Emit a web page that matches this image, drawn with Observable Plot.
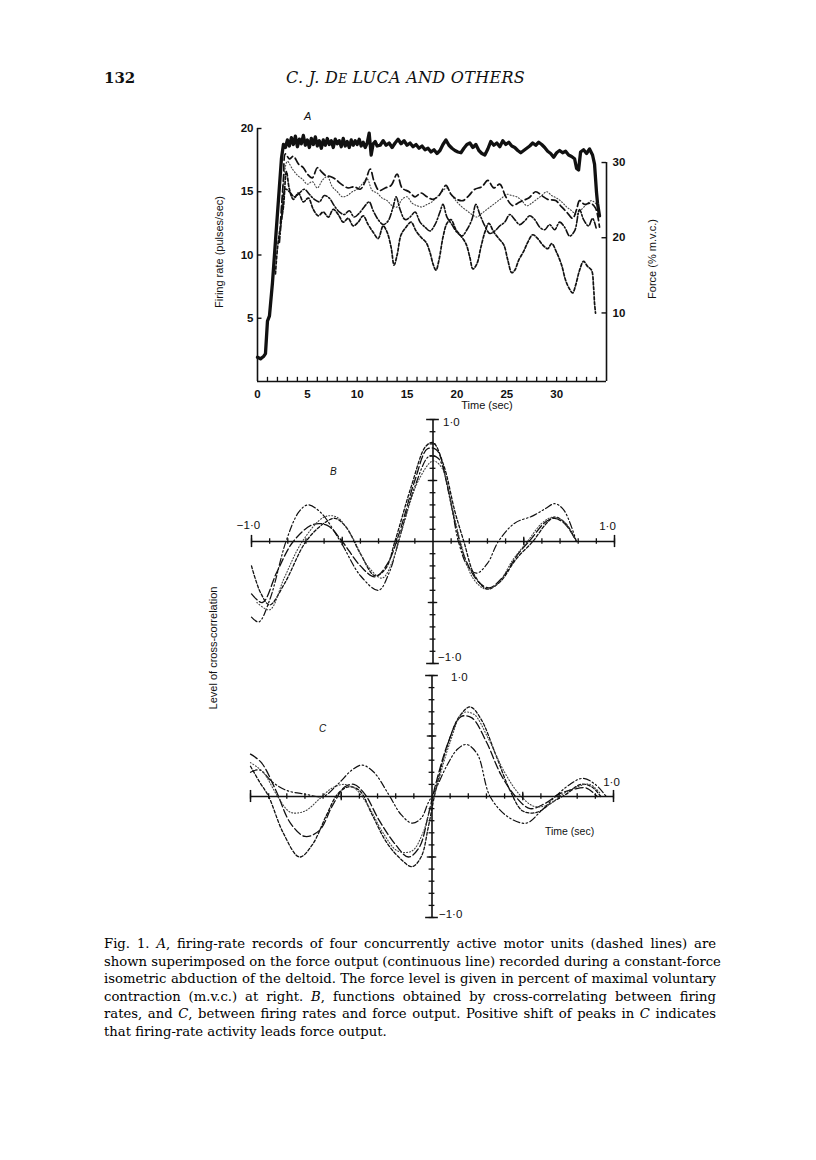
<!DOCTYPE html>
<html><head><meta charset="utf-8">
<script src="https://cdn.jsdelivr.net/npm/d3@7"></script>
<script src="https://cdn.jsdelivr.net/npm/@observablehq/plot@0.6"></script>
<style>
body{margin:0;background:#fff;}
#page{position:relative;width:816px;height:1160px;background:#fff;overflow:hidden;}
.abs{position:absolute;}
.hdr{font-family:"DejaVu Serif",serif;color:#111;white-space:nowrap;}
.lbl{position:absolute;font-family:"Liberation Sans",Arial,sans-serif;font-size:11px;color:#111;white-space:nowrap;}
.rot{transform:translate(-50%,-50%) rotate(-90deg);}
.ctr{transform:translate(-50%,-50%);}
.cap{position:absolute;left:104px;width:612px;font-family:"DejaVu Serif",serif;font-size:13.2px;line-height:17px;color:#000;white-space:nowrap;text-align:justify;text-align-last:justify;}
svg.plotsvg{position:absolute;left:0;}
</style></head>
<body><div id="page"></div>
<script>
// ---------------- DATA ----------------
// Panel A: time axis (sec), firing-rate axis (pulses/sec), force axis (% m.v.c.)
const xDomainA = [0, 35];
const yDomainA = [0, 20];
const xMinorTicksA = d3.range(1, 35);
const xLabelsA = [0, 5, 10, 15, 20, 25, 30];
const yLabelsA = [5, 10, 15, 20];
const forceLabels = [10, 20, 30];
// calibration of right axis against left axis (force value -> firing-rate position)
const forceCal = {force: [10, 30], rate: [5.42, 17.31]};

// force output (% m.v.c.), continuous line
const forceA = [[0,4.1],[0.3,3.9],[0.6,4.2],[0.8,4.6],[1.0,8.9],[1.2,9.6],[1.5,14],[1.8,19.5],[2.1,25],[2.4,30.5],[2.6,32.4],[2.8,32.0],[3.0,33.0],[3.2,32.2],[3.4,33.3],[3.6,32.4],[3.8,33.5],[4.0,32.1],[4.2,33.1],[4.4,32.5],[4.6,33.6],[4.8,32.3],[5.0,33.0],[5.2,32.0],[5.4,33.2],[5.6,32.4],[5.8,33.4],[6.0,32.2],[6.2,32.9],[6.4,31.9],[6.6,33.0],[6.8,32.3],[7.0,33.2],[7.2,32.4],[7.4,32.9],[7.6,32.0],[7.8,33.1],[8.0,32.5],[8.2,32.9],[8.4,32.1],[8.6,33.2],[8.8,32.2],[9.0,32.8],[9.2,32.0],[9.4,33.0],[9.6,32.3],[9.8,32.9],[10.0,32.4],[10.2,33.1],[10.4,32.2],[10.6,32.7],[10.8,32.0],[11.0,32.6],[11.2,33.9],[11.4,31.0],[11.6,32.5],[11.8,32.8],[12.0,32.2],[12.3,32.3],[12.6,32.9],[12.9,32.3],[13.2,32.6],[13.5,32.0],[13.8,32.6],[14.1,33.1],[14.4,32.5],[14.7,32.9],[15.0,32.3],[15.3,32.6],[15.6,32.1],[15.9,32.4],[16.2,31.9],[16.5,32.2],[16.8,31.7],[17.1,31.9],[17.4,31.4],[17.7,31.7],[18.0,31.2],[18.3,31.6],[18.6,32.4],[18.9,33.0],[19.2,32.3],[19.5,31.9],[19.8,31.6],[20.1,31.4],[20.4,31.3],[20.7,31.9],[21.0,32.4],[21.3,32.6],[21.6,32.0],[21.9,32.4],[22.2,31.6],[22.5,31.2],[22.8,31.0],[23.1,31.8],[23.4,32.8],[23.7,32.3],[24.0,32.6],[24.3,32.1],[24.6,32.9],[24.9,32.4],[25.2,32.7],[25.5,32.2],[25.8,32.0],[26.1,31.6],[26.4,31.3],[26.7,31.6],[27.0,31.9],[27.3,32.2],[27.6,32.6],[27.9,32.3],[28.2,32.7],[28.5,32.4],[28.8,32.0],[29.1,31.5],[29.4,31.2],[29.7,30.7],[30.0,31.3],[30.3,31.6],[30.6,31.3],[30.9,31.5],[31.2,31.0],[31.5,30.8],[31.8,30.5],[32.0,29.2],[32.2,29.0],[32.4,31.4],[32.7,31.7],[33.0,31.2],[33.3,31.8],[33.6,31.0],[33.8,29.8],[34.0,26.0],[34.1,24.6],[34.3,22.9]];

// firing rates (pulses/sec) of four motor units
const unit1 = [[2.3,12.5],[2.6,16.0],[2.8,18.0],[3.2,17.6],[3.6,17.8],[4.1,17.2],[4.6,16.9],[5.0,16.4],[5.5,16.1],[6.0,16.9],[6.4,16.6],[6.8,16.3],[7.3,16.2],[7.8,16.0],[8.4,15.6],[9.1,15.3],[9.7,15.4],[10.3,15.2],[10.8,15.8],[11.3,16.8],[11.7,15.8],[12.2,15.1],[12.8,15.3],[13.4,15.5],[14.0,16.4],[14.5,15.3],[15.2,15.0],[15.8,14.6],[16.4,14.9],[17.0,14.6],[17.6,14.4],[18.2,14.7],[18.9,15.5],[19.4,14.8],[20.0,14.4],[20.6,14.3],[21.2,14.7],[21.8,15.2],[22.5,15.4],[23.1,15.9],[23.7,15.3],[24.3,15.6],[24.9,14.6],[25.6,13.9],[26.1,14.1],[26.6,14.3],[27.2,14.5],[27.9,15.0],[28.5,14.7],[29.1,14.4],[29.9,14.3],[30.5,13.8],[31.0,13.4],[31.6,12.9],[32.0,13.6],[32.3,14.3],[32.8,14.0],[33.4,14.1],[33.9,13.7],[34.3,12.2]];
const unit2 = [[2.4,13.0],[2.7,16.5],[3.0,17.4],[3.5,16.8],[4.0,16.3],[4.5,16.0],[5.0,15.6],[5.5,15.8],[6.0,15.3],[6.5,15.9],[7.0,16.2],[7.5,15.4],[8.0,15.0],[8.5,14.6],[9.0,14.7],[9.5,15.0],[10.0,15.2],[10.5,15.6],[11.0,16.0],[11.5,15.1],[12.0,14.9],[12.5,14.5],[13.0,14.3],[13.5,13.9],[14.0,13.8],[14.5,14.4],[15.0,14.6],[15.5,14.1],[16.0,13.9],[16.5,13.8],[17.0,14.0],[17.5,14.2],[18.0,14.6],[18.5,15.0],[19.0,15.3],[19.5,14.7],[20.0,14.2],[20.5,13.8],[21.0,13.5],[21.5,13.2],[22.0,13.0],[22.5,13.3],[23.0,13.6],[23.5,13.9],[24.0,14.2],[24.5,14.5],[25.0,14.8],[25.5,14.7],[26.0,14.6],[26.5,14.3],[27.0,13.9],[27.5,14.1],[28.0,14.4],[28.5,14.7],[29.0,15.0],[29.5,14.7],[30.0,14.5],[30.5,14.2],[31.0,13.8],[31.5,13.5],[32.0,13.2],[32.5,13.6],[33.0,14.0],[33.5,14.3],[34.0,14.0]];
const unit3 = [[2.2,11.0],[2.5,13.5],[2.8,15.2],[3.2,15.0],[3.7,14.6],[4.2,14.9],[4.7,15.2],[5.2,14.8],[5.7,14.4],[6.2,14.2],[6.7,14.7],[7.2,14.5],[7.7,13.9],[8.2,13.4],[8.7,13.2],[9.2,13.5],[9.7,13.0],[10.2,13.3],[10.7,13.8],[11.2,14.2],[11.6,13.5],[12.1,12.8],[12.6,12.4],[13.1,12.7],[13.6,13.8],[13.9,14.6],[14.3,13.6],[14.8,12.8],[15.3,13.0],[15.8,13.4],[16.3,12.6],[16.8,12.2],[17.3,11.9],[17.8,12.4],[18.3,13.4],[18.6,14.0],[19.0,13.0],[19.5,12.4],[20.0,11.8],[20.5,11.5],[21.0,12.0],[21.5,12.8],[21.9,14.0],[22.3,13.2],[22.8,12.3],[23.3,11.7],[23.8,11.9],[24.3,12.3],[24.8,12.6],[25.3,13.2],[25.8,12.8],[26.3,12.4],[26.8,12.7],[27.3,13.1],[27.8,12.8],[28.3,12.2],[28.8,12.0],[29.3,12.4],[29.8,12.0],[30.3,12.6],[30.8,12.2],[31.3,11.5],[31.8,11.9],[32.3,13.6],[32.7,12.8],[33.2,12.3],[33.6,12.9],[34.0,12.0]];
const unit4 = [[1.8,8.5],[2.0,10.5],[2.3,12.3],[2.6,13.8],[2.9,16.6],[3.2,15.2],[3.6,14.4],[4.1,14.9],[4.6,14.2],[5.1,14.5],[5.6,13.6],[6.1,13.1],[6.6,13.4],[7.1,13.0],[7.6,13.6],[8.1,13.2],[8.6,12.6],[9.1,12.9],[9.6,12.3],[10.1,12.6],[10.6,13.1],[11.1,12.4],[11.6,11.8],[12.1,11.3],[12.6,12.3],[13.0,11.8],[13.4,10.6],[13.7,9.2],[14.0,10.0],[14.4,11.6],[14.9,12.2],[15.4,12.6],[15.9,11.9],[16.4,11.4],[16.9,11.0],[17.3,10.2],[17.6,9.3],[17.9,8.8],[18.2,9.6],[18.6,11.4],[19.0,12.5],[19.4,12.8],[19.9,12.0],[20.4,11.5],[20.9,10.9],[21.3,9.8],[21.6,8.9],[22.0,9.3],[22.4,10.6],[22.8,11.8],[23.2,12.5],[23.7,11.8],[24.2,11.3],[24.7,10.8],[25.1,9.6],[25.5,8.6],[25.8,8.8],[26.2,9.6],[26.7,10.3],[27.1,11.0],[27.6,11.6],[28.1,11.3],[28.6,10.8],[29.1,10.5],[29.5,10.9],[30.0,10.2],[30.5,9.2],[30.9,8.0],[31.3,7.3],[31.6,7.0],[31.9,7.6],[32.3,8.8],[32.7,9.5],[33.1,9.1],[33.5,8.8],[33.7,7.5],[33.8,6.2],[33.9,5.4]];

// Panels B and C: lag (sec) vs level of cross-correlation
const corrDomain = [-1, 1];
const corrTicks = d3.range(-10, 11).filter(i => i !== 0).map(i => i / 10);
const corrMajor = [-0.5, 0.5];
const corrEnds = [-1, 1];

const corrB1 = [[-1.0,-0.62],[-0.96,-0.66],[-0.90,-0.48],[-0.81,0.0],[-0.74,0.24],[-0.69,0.30],[-0.62,0.24],[-0.51,0.0],[-0.40,-0.28],[-0.30,-0.40],[-0.24,-0.25],[-0.19,0.0],[-0.10,0.45],[-0.02,0.70],[0.03,0.68],[0.10,0.30],[0.14,0.0],[0.19,-0.20],[0.24,-0.26],[0.30,-0.18],[0.36,0.0],[0.45,0.15],[0.55,0.21],[0.62,0.27],[0.67,0.31],[0.72,0.26],[0.79,0.0]];
const corrB2 = [[-1.0,-0.20],[-0.95,-0.42],[-0.90,-0.52],[-0.82,-0.35],[-0.70,0.0],[-0.60,0.15],[-0.54,0.19],[-0.48,0.12],[-0.40,-0.10],[-0.32,-0.28],[-0.26,-0.22],[-0.21,0.0],[-0.12,0.45],[-0.04,0.78],[0.0,0.81],[0.06,0.62],[0.12,0.25],[0.17,0.0],[0.23,-0.28],[0.30,-0.39],[0.37,-0.33],[0.46,-0.14],[0.55,0.0],[0.62,0.14],[0.67,0.20],[0.73,0.15],[0.79,0.0]];
const corrB3 = [[-1.0,-0.43],[-0.94,-0.50],[-0.86,-0.25],[-0.77,0.0],[-0.66,0.14],[-0.58,0.13],[-0.50,0.0],[-0.40,-0.20],[-0.32,-0.29],[-0.25,-0.18],[-0.19,0.05],[-0.10,0.50],[-0.03,0.76],[0.02,0.75],[0.08,0.45],[0.13,0.10],[0.18,-0.15],[0.25,-0.33],[0.31,-0.38],[0.38,-0.30],[0.47,-0.10],[0.54,0.02],[0.62,0.16],[0.67,0.19],[0.73,0.14],[0.79,0.0]];
const corrB4 = [[-0.97,-0.50],[-0.90,-0.56],[-0.82,-0.30],[-0.72,0.0],[-0.60,0.20],[-0.53,0.20],[-0.45,0.05],[-0.36,-0.20],[-0.28,-0.30],[-0.22,-0.15],[-0.17,0.10],[-0.08,0.50],[0.0,0.66],[0.05,0.60],[0.11,0.25],[0.16,-0.05],[0.22,-0.30],[0.29,-0.39],[0.36,-0.34],[0.44,-0.15],[0.52,0.0],[0.60,0.15],[0.66,0.20],[0.72,0.16],[0.79,0.0]];

const corrC1 = [[-1.0,0.20],[-0.95,0.22],[-0.88,0.12],[-0.80,0.05],[-0.70,0.02],[-0.60,0.0],[-0.52,0.10],[-0.44,0.22],[-0.385,0.26],[-0.32,0.20],[-0.24,0.02],[-0.17,-0.15],[-0.11,-0.22],[-0.06,-0.18],[-0.02,-0.05],[0.02,0.06],[0.08,0.25],[0.14,0.39],[0.19,0.43],[0.25,0.35],[0.32,0.0],[0.42,-0.17],[0.52,-0.22],[0.60,-0.12],[0.68,0.0],[0.76,0.10],[0.83,0.15],[0.90,0.10],[0.96,0.0]];
const corrC2 = [[-1.0,0.25],[-0.95,0.12],[-0.90,0.0],[-0.82,-0.30],[-0.73,-0.50],[-0.66,-0.40],[-0.58,-0.15],[-0.52,0.02],[-0.46,0.08],[-0.40,0.05],[-0.33,-0.15],[-0.25,-0.38],[-0.17,-0.52],[-0.11,-0.58],[-0.06,-0.50],[-0.02,-0.25],[0.02,0.05],[0.08,0.40],[0.15,0.66],[0.21,0.74],[0.27,0.64],[0.35,0.35],[0.43,0.05],[0.50,-0.12],[0.58,-0.13],[0.66,-0.05],[0.74,0.02],[0.82,0.10],[0.88,0.08],[0.93,0.0]];
const corrC3 = [[-1.0,0.35],[-0.94,0.28],[-0.86,0.05],[-0.78,-0.22],[-0.70,-0.33],[-0.62,-0.28],[-0.55,-0.08],[-0.48,0.08],[-0.43,0.10],[-0.37,0.02],[-0.29,-0.20],[-0.20,-0.40],[-0.13,-0.50],[-0.07,-0.42],[-0.02,-0.15],[0.02,0.10],[0.09,0.45],[0.16,0.66],[0.22,0.65],[0.30,0.45],[0.38,0.18],[0.46,0.0],[0.54,-0.10],[0.62,-0.06],[0.70,0.02],[0.78,0.06],[0.85,0.07],[0.91,0.0]];
const corrC4 = [[-1.0,0.28],[-0.93,0.20],[-0.85,0.0],[-0.78,-0.13],[-0.70,-0.12],[-0.62,-0.02],[-0.55,0.07],[-0.48,0.10],[-0.42,0.06],[-0.35,-0.08],[-0.27,-0.30],[-0.19,-0.45],[-0.11,-0.45],[-0.05,-0.30],[-0.01,-0.10],[0.03,0.10],[0.10,0.45],[0.17,0.69],[0.23,0.68],[0.31,0.48],[0.40,0.20],[0.48,0.02],[0.56,-0.08],[0.64,-0.07],[0.72,0.02],[0.80,0.08],[0.87,0.10],[0.93,0.02]];

const captionLines = [
  "Fig. 1. <i>A</i>, firing-rate records of four concurrently active motor units (dashed lines) are",
  "shown superimposed on the force output (continuous line) recorded during a constant-force",
  "isometric abduction of the deltoid. The force level is given in percent of maximal voluntary",
  "contraction (m.v.c.) at right. <i>B</i>, functions obtained by cross-correlating between firing",
  "rates, and <i>C</i>, between firing rates and force output. Positive shift of peaks in <i>C</i> indicates",
  "that firing-rate activity leads force output."
];

// ---------------- DRAW ----------------
const page = document.getElementById("page");
const ink = "#111";
const fmtCorr = v => (v < 0 ? "\u22121\u00b70" : "1\u00b70");
const baseStyle = {fontFamily: "Liberation Sans, Arial, sans-serif", fontSize: "11.5px", background: "transparent", color: ink, overflow: "visible"};

function place(svg, top) {
  svg.classList.add("plotsvg");
  svg.style.top = top + "px";
  svg.style.maxWidth = "none";
  page.appendChild(svg);
}
function addHTML(html) { page.insertAdjacentHTML("beforeend", html); }

// header
addHTML(`<div class="abs hdr" style="left:104px;top:69px;font-size:15px;font-weight:bold;">132</div>`);
addHTML(`<div class="abs hdr" style="left:286px;top:68px;font-size:16px;font-style:italic;letter-spacing:0.3px;">C. J. D<span style="font-size:12px">E</span> LUCA AND OTHERS</div>`);

// Panel A
const forceScale = d3.scaleLinear(forceCal.force, forceCal.rate);
const lineA = (data, o) => Plot.line(data, {x: d => d[0], y: d => d[1], stroke: ink, curve: "catmull-rom", ...o});
const A = Plot.plot({
  width: 816, height: 330,
  marginLeft: 257, marginRight: 210, marginTop: 28, marginBottom: 49,
  x: {domain: xDomainA, axis: null},
  y: {domain: yDomainA, axis: null},
  style: baseStyle,
  marks: [
    lineA(unit2, {strokeWidth: 1.1, strokeDasharray: "1,2", stroke: "#444"}),
    lineA(unit1, {strokeWidth: 1.7, strokeDasharray: "7,3.5"}),
    lineA(unit3, {strokeWidth: 1.6, strokeDasharray: "6,2,1.5,2"}),
    lineA(unit4, {strokeWidth: 1.7, strokeDasharray: "3,2"}),
    Plot.line(forceA, {x: d => d[0], y: d => forceScale(d[1]), stroke: ink, strokeWidth: 3.3, strokeLinejoin: "round"}),
    Plot.ruleY([yDomainA[0]], {x1: xDomainA[0], x2: xDomainA[1], stroke: ink, strokeWidth: 1.6}),
    Plot.ruleX([xDomainA[0]], {y1: yDomainA[0], y2: yDomainA[1], stroke: ink, strokeWidth: 1.6}),
    Plot.ruleX([xDomainA[1]], {y1: yDomainA[0], y2: forceScale(forceLabels[forceLabels.length - 1]), stroke: ink, strokeWidth: 1.6}),
    Plot.ruleX(xMinorTicksA, {y1: 0, y2: 0.33, stroke: ink, strokeWidth: 1.3}),
    Plot.ruleY(yLabelsA, {x1: xDomainA[0], x2: 0.45, stroke: ink, strokeWidth: 1.4}),
    Plot.ruleY(forceLabels.map(forceScale), {x1: xDomainA[1] - 0.45, x2: xDomainA[1], stroke: ink, strokeWidth: 1.4}),
    Plot.text(xLabelsA, {x: d => d, y: yDomainA[0], dy: 13, text: d => String(d), fontWeight: "bold"}),
    Plot.text(yLabelsA, {x: xDomainA[0], y: d => d, dx: -4, textAnchor: "end", text: d => String(d), fontWeight: "bold"}),
    Plot.text(forceLabels, {x: xDomainA[1], y: d => forceScale(d), dx: 6, textAnchor: "start", text: d => String(d), fontWeight: "bold"})
  ]
});
place(A, 100);
addHTML(`<div class="lbl" style="left:304px;top:110px;font-style:italic;font-size:11px;">A</div>`);
addHTML(`<div class="lbl ctr" style="left:487px;top:405px;font-size:11px;">Time (sec)</div>`);
addHTML(`<div class="lbl rot" style="left:219px;top:252px;font-size:11px;">Firing rate (pulses/sec)</div>`);
addHTML(`<div class="lbl rot" style="left:652px;top:259px;font-size:11px;">Force (% m.v.c.)</div>`);

// Panels B & C
function corrPlot(curves, m, lab) {
  const styles = [
    {strokeWidth: 1.2, strokeDasharray: "7,2.5,1.5,2.5,1.5,2.5"},
    {strokeWidth: 1.3, strokeDasharray: "3,2"},
    {strokeWidth: 1.3, strokeDasharray: "8,3"},
    {strokeWidth: 1.1, strokeDasharray: "1,2", stroke: "#444"}
  ];
  return Plot.plot({
    width: 816, height: m.height,
    marginLeft: m.left, marginRight: m.right, marginTop: m.top, marginBottom: m.bottom,
    x: {domain: corrDomain, axis: null},
    y: {domain: corrDomain, axis: null},
    style: baseStyle,
    marks: [
      ...curves.map((c, i) => Plot.line(c, {x: d => d[0], y: d => d[1], stroke: ink, curve: "catmull-rom", ...styles[i]})),
      Plot.ruleY([0], {x1: corrDomain[0], x2: corrDomain[1], stroke: ink, strokeWidth: 1.6}),
      Plot.ruleX([0], {y1: corrDomain[0], y2: corrDomain[1], stroke: ink, strokeWidth: 1.6}),
      Plot.ruleX(corrTicks, {y1: -0.022, y2: 0.022, stroke: ink, strokeWidth: 1.3}),
      Plot.ruleX(corrMajor, {y1: -0.035, y2: 0.035, stroke: ink, strokeWidth: 1.3}),
      Plot.ruleX(corrEnds, {y1: -0.05, y2: 0.05, stroke: ink, strokeWidth: 1.5}),
      Plot.ruleY(corrTicks, {x1: -0.016, x2: 0.016, stroke: ink, strokeWidth: 1.3}),
      Plot.ruleY(corrMajor, {x1: -0.026, x2: 0.026, stroke: ink, strokeWidth: 1.3}),
      Plot.ruleY(corrEnds, {x1: -0.035, x2: 0.035, stroke: ink, strokeWidth: 1.5}),
      Plot.text([corrEnds[1]], {x: 0, y: d => d, dx: lab.topDx, dy: lab.topDy, textAnchor: "start", text: fmtCorr}),
      Plot.text([corrEnds[0]], {x: 0, y: d => d, dx: lab.botDx, dy: lab.botDy, textAnchor: "start", text: fmtCorr}),
      ...(lab.left ? [Plot.text([corrEnds[0]], {x: d => d, y: 0, dx: lab.leftDx, dy: lab.leftDy, text: fmtCorr})] : []),
      Plot.text([corrEnds[1]], {x: d => d, y: 0, dx: lab.rightDx, dy: lab.rightDy, text: fmtCorr})
    ]
  });
}
const B = corrPlot([corrB1, corrB2, corrB3, corrB4],
  {height: 260, left: 251, right: 202, top: 9, bottom: 7},
  {topDx: 10, topDy: 3, botDx: 5, botDy: -6, left: true, leftDx: -3, leftDy: -16, rightDx: -7, rightDy: -15});
place(B, 410);
addHTML(`<div class="lbl" style="left:330px;top:466px;font-style:italic;font-size:10px;">B</div>`);

const C = corrPlot([corrC1, corrC2, corrC3, corrC4],
  {height: 265, left: 250, right: 203, top: 15, bottom: 8},
  {topDx: 19, topDy: 2, botDx: 7, botDy: -3, left: false, rightDx: -2, rightDy: -14});
place(C, 660);
addHTML(`<div class="lbl" style="left:319px;top:723px;font-style:italic;font-size:10px;">C</div>`);
addHTML(`<div class="lbl" style="left:545px;top:825px;font-size:10.5px;">Time (sec)</div>`);
addHTML(`<div class="lbl rot" style="left:213px;top:648px;font-size:11px;">Level of cross-correlation</div>`);

// caption
captionLines.forEach((ln, i) => {
  const last = i === captionLines.length - 1;
  addHTML(`<div class="cap" style="top:${935 + i * 17.5}px;${last ? "text-align:left;text-align-last:left;" : ""}">${ln}</div>`);
});
</script>
</body></html>
